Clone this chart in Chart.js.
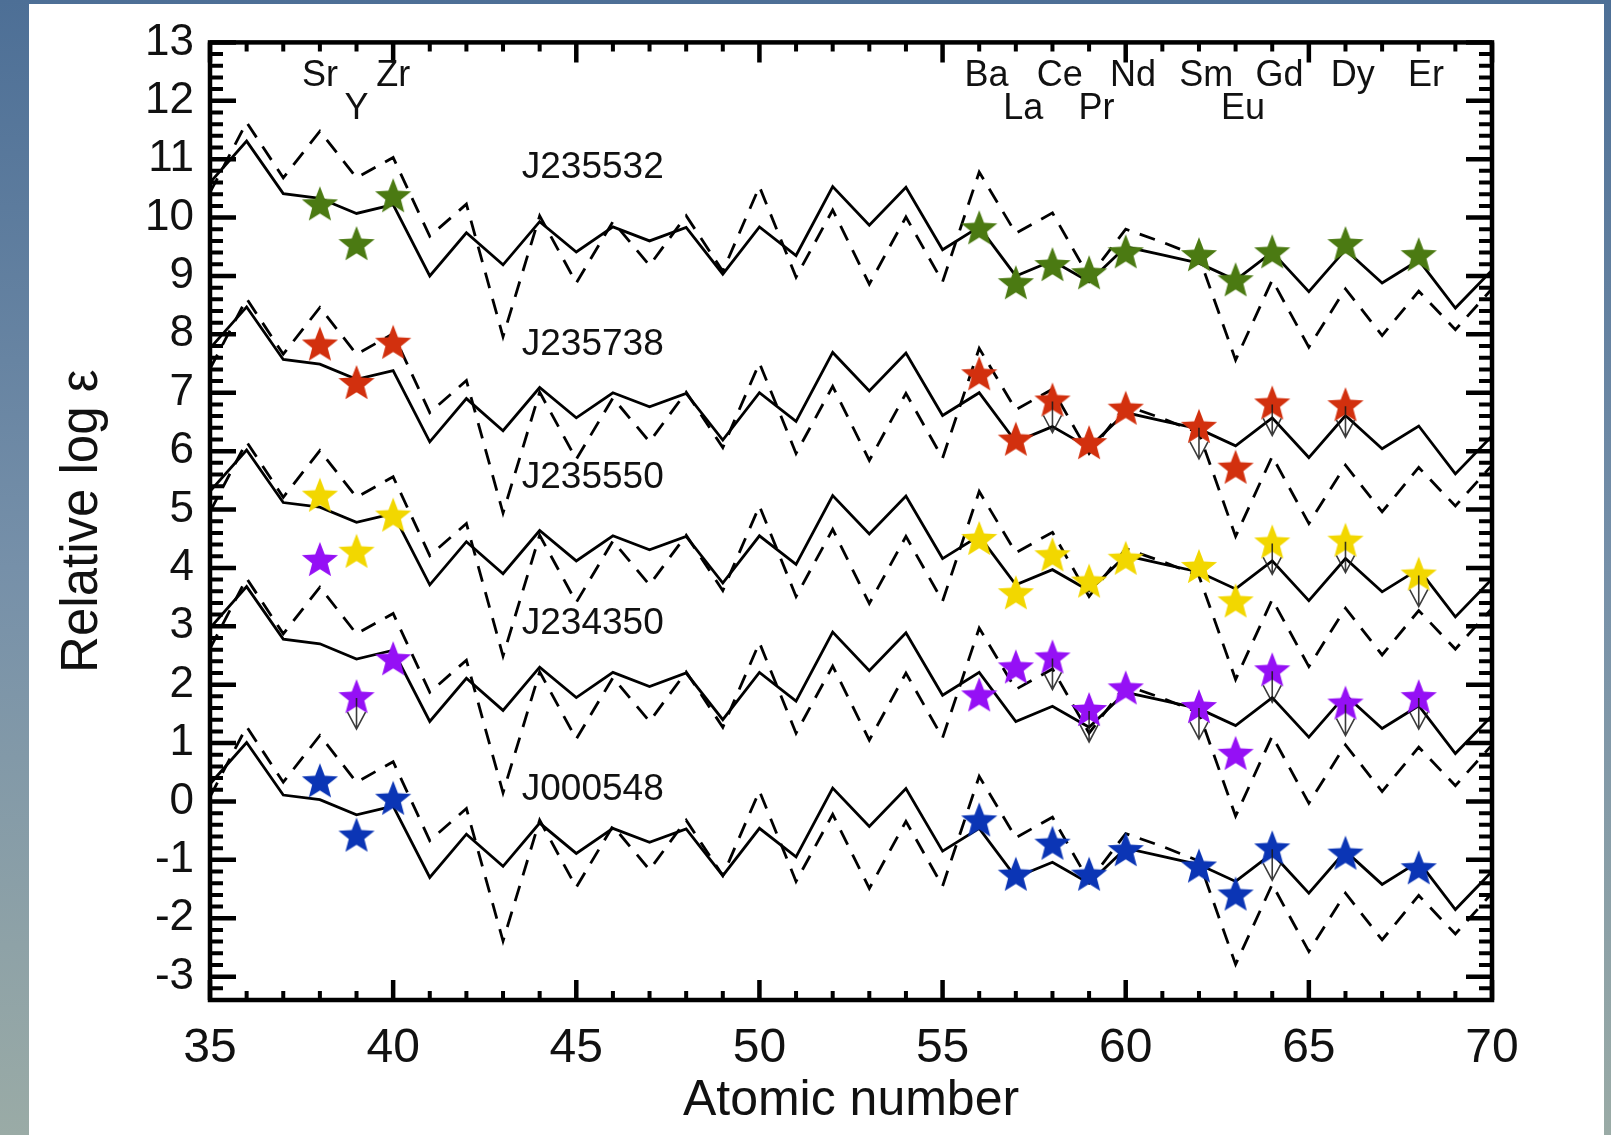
<!DOCTYPE html>
<html>
<head>
<meta charset="utf-8">
<script src="https://cdn.jsdelivr.net/npm/chart.js@4.4.0/dist/chart.umd.min.js"></script>
<style>
  html, body { margin: 0; padding: 0; }
  body {
    width: 1611px; height: 1135px; overflow: hidden; position: relative;
    background: linear-gradient(to bottom, #4d6f96 0%, #7690a9 50%, #9aaba6 100%);
  }
  #panel { position: absolute; left: 29px; top: 4px; width: 1575px; height: 1131px; background: #fff; }
  #chart { position: absolute; left: 0; top: 0; }
</style>
</head>
<body>
<div id="panel"></div>
<canvas id="chart" width="1611" height="1135"></canvas>
<script>
const atomicNumbers = [35, 36, 37, 38, 39, 40, 41, 42, 43, 44, 45, 46, 47, 48, 49, 50, 51, 52,
  53, 54, 55, 56, 57, 58, 59, 60, 61, 62, 63, 64, 65, 66, 67, 68, 69, 70];

// r-process patterns, unshifted (solid and dashed curves)
const patternSolid = [10.6, 11.31, 10.41, 10.33, 10.07, 10.22, 9.0, 9.74, 9.19, 9.93, 9.41, 9.84,
  9.6, 9.83, 9.03, 9.84, 9.35, 10.53, 9.87, 10.52, 9.45, 9.84, 9.0, 9.26, 8.9, 9.5, 9.36, 9.22,
  8.93, 9.41, 8.73, 9.45, 8.88, 9.27, 8.45, 9.1];
const patternDashed = [10.25, 11.45, 10.5, 11.3, 10.5, 10.85, 9.5, 10.05, 7.78, 9.85, 8.7, 9.75,
  9.0, 9.85, 8.9, 10.35, 8.8, 9.95, 8.68, 9.83, 8.72, 10.6, 9.55, 9.9, 8.8, 9.62, 9.4, 9.15,
  7.38, 8.75, 7.6, 8.6, 7.8, 8.56, 7.9, 8.6];

const starNames = ['J235532', 'J235738', 'J235550', 'J234350', 'J000548'];
const starColors = ['#4b7a12', '#d2300e', '#f2d700', '#9510f5', '#0b35b5'];
const solidShift = [0, -2.84, -5.29, -7.63, -10.3];
const dashedShift = [0.18, -2.84, -5.29, -7.63, -10.17];

const elements = ['Sr', 'Y', 'Zr', 'Ba', 'La', 'Ce', 'Pr', 'Nd', 'Sm', 'Eu', 'Gd', 'Dy', 'Er'];
const elementZ = [38, 39, 40, 56, 57, 58, 59, 60, 62, 63, 64, 66, 68];
const elementRow = [0, 1, 0, 0, 1, 0, 1, 0, 0, 1, 0, 0, 0];

const abundJ235532 = [10.21, 9.53, 10.35, 9.8, 8.86, 9.17, 9.03, 9.39, 9.34, 8.91, 9.39, 9.53, 9.34];
const abundJ235738 = [7.81, 7.15, 7.84, 7.3, 6.18, 6.85, 6.12, 6.71, 6.4, 5.7, 6.8, 6.77, null];
const abundJ235550 = [5.22, 4.26, 4.88, 4.48, 3.55, 4.2, 3.75, 4.14, 4.0, 3.41, 4.42, 4.45, 3.87];
const abundJ234350 = [4.12, 1.77, 2.42, 1.8, 2.28, 2.45, 1.55, 1.92, 1.6, 0.8, 2.23, 1.66, 1.77];
const abundJ000548 = [0.33, -0.6, 0.03, -0.34, -1.27, -0.74, -1.27, -0.85, -1.13, -1.61, -0.82, -0.91, -1.16];
const abundances = [abundJ235532, abundJ235738, abundJ235550, abundJ234350, abundJ000548];

// upper limits, drawn with a down arrow
const upperLimits = [
  [],
  ['Ce', 'Sm', 'Gd', 'Dy'],
  ['Gd', 'Dy', 'Er'],
  ['Y', 'Ce', 'Pr', 'Sm', 'Gd', 'Dy', 'Er'],
  ['Gd']
];

const xTicks = [35, 40, 45, 50, 55, 60, 65, 70];
const yTicks = [-3, -2, -1, 0, 1, 2, 3, 4, 5, 6, 7, 8, 9, 10, 11, 12, 13];

const FONT = "'Liberation Sans', Arial, Helvetica, sans-serif";
const nameLabelZ = 45.45;
const nameLabelY = [10.86, 7.82, 5.55, 3.04, 0.2];
const elementRowY = [12.43, 11.86];

function starSymbol(color, r) {
  const c = document.createElement('canvas');
  const size = Math.ceil(r * 2 + 2);
  c.width = size;
  c.height = size;
  const g = c.getContext('2d');
  g.fillStyle = color;
  g.beginPath();
  for (let k = 0; k < 10; k++) {
    const rad = k % 2 === 0 ? r : r * 0.43;
    const a = -Math.PI / 2 + k * Math.PI / 5;
    const px = size / 2 + rad * Math.cos(a);
    const py = size / 2 + rad * Math.sin(a);
    if (k === 0) g.moveTo(px, py); else g.lineTo(px, py);
  }
  g.closePath();
  g.fill();
  return c;
}

const datasets = [];
starNames.forEach((name, i) => {
  const pts = [];
  abundances[i].forEach((v, k) => {
    if (v !== null) pts.push({ x: elementZ[k], y: v });
  });
  datasets.push({
    label: name,
    data: pts,
    showLine: false,
    pointStyle: starSymbol(starColors[i], 19),
    pointRadius: 19,
    order: 0
  });
  datasets.push({
    label: name + ' solid',
    data: atomicNumbers.map((z, k) => ({ x: z, y: patternSolid[k] + solidShift[i] })),
    showLine: true,
    borderColor: '#000',
    borderWidth: 2.8,
    pointRadius: 0,
    tension: 0,
    order: 2
  });
  datasets.push({
    label: name + ' dashed',
    data: atomicNumbers.map((z, k) => ({ x: z, y: patternDashed[k] + dashedShift[i] })),
    showLine: true,
    borderColor: '#000',
    borderWidth: 2.8,
    borderDash: [16, 11],
    pointRadius: 0,
    tension: 0,
    order: 3
  });
});

// frame with inward ticks, limit arrows and text labels
const decorations = {
  id: 'decorations',
  afterDatasetsDraw(chart) {
    const ctx = chart.ctx;
    const xs = chart.scales.x, ys = chart.scales.y;
    const a = chart.chartArea;
    ctx.save();

    // upper limit arrows
    ctx.strokeStyle = 'rgba(25,25,25,0.85)';
    ctx.lineWidth = 1.6;
    upperLimits.forEach((list, i) => {
      list.forEach(el => {
        const k = elements.indexOf(el);
        const px = xs.getPixelForValue(elementZ[k]);
        const py = ys.getPixelForValue(abundances[i][k]);
        ctx.beginPath();
        ctx.moveTo(px, py);
        ctx.lineTo(px, py + 31);
        ctx.moveTo(px - 9, py + 14);
        ctx.lineTo(px, py + 31);
        ctx.lineTo(px + 9, py + 14);
        ctx.stroke();
      });
    });

    // ticks
    ctx.strokeStyle = '#000';
    for (let z = 35; z <= 70; z++) {
      const px = xs.getPixelForValue(z);
      const len = z % 5 === 0 ? 20 : 9;
      ctx.lineWidth = z % 5 === 0 ? 4.5 : 4;
      ctx.beginPath();
      ctx.moveTo(px, a.bottom); ctx.lineTo(px, a.bottom - len);
      ctx.moveTo(px, a.top); ctx.lineTo(px, a.top + len);
      ctx.stroke();
    }
    for (let k = -17; k <= 65; k++) {
      const py = ys.getPixelForValue(k / 5);
      const major = k % 5 === 0;
      const len = major ? 26 : 13;
      ctx.lineWidth = major ? 4.5 : 4;
      ctx.beginPath();
      ctx.moveTo(a.left, py); ctx.lineTo(a.left + len, py);
      ctx.moveTo(a.right, py); ctx.lineTo(a.right - len, py);
      ctx.stroke();
    }
    ctx.lineWidth = 4.5;
    ctx.strokeRect(a.left, a.top, a.right - a.left, a.bottom - a.top);

    // element and star labels
    ctx.fillStyle = '#111';
    ctx.textAlign = 'center';
    ctx.textBaseline = 'middle';
    ctx.font = '36px ' + FONT;
    elements.forEach((el, k) => {
      const dz = elementZ[k] > 50 ? 0.2 : 0;
      ctx.fillText(el, xs.getPixelForValue(elementZ[k] + dz), ys.getPixelForValue(elementRowY[elementRow[k]]));
    });
    ctx.font = '37px ' + FONT;
    starNames.forEach((name, i) => {
      ctx.fillText(name, xs.getPixelForValue(nameLabelZ), ys.getPixelForValue(nameLabelY[i]));
    });
    ctx.restore();
  }
};

new Chart(document.getElementById('chart'), {
  type: 'scatter',
  data: { datasets: datasets },
  plugins: [decorations],
  options: {
    responsive: false,
    animation: false,
    devicePixelRatio: 1,
    layout: { padding: { top: 32, right: 119, left: 0, bottom: 0 } },
    plugins: { legend: { display: false }, tooltip: { enabled: false } },
    scales: {
      x: {
        type: 'linear',
        min: 35,
        max: 70,
        grid: { display: false, drawTicks: false, tickLength: 0 },
        border: { display: false },
        ticks: { color: '#111', font: { family: FONT, size: 48 }, padding: 20, maxRotation: 0, autoSkip: false },
        afterBuildTicks: s => { s.ticks = xTicks.map(v => ({ value: v })); },
        afterFit: s => { s.height = 135; },
        title: { display: true, text: 'Atomic number', color: '#111', font: { family: FONT, size: 50 }, padding: { top: 0, bottom: 4 } }
      },
      y: {
        type: 'linear',
        min: -3.4,
        max: 13,
        grid: { display: false, drawTicks: false, tickLength: 0 },
        border: { display: false },
        ticks: { color: '#111', font: { family: FONT, size: 44 }, padding: 16 },
        afterBuildTicks: s => { s.ticks = yTicks.map(v => ({ value: v })); },
        afterFit: s => { s.width = 210; },
        title: { display: true, text: 'Relative log ε', color: '#111', font: { family: FONT, size: 51 }, padding: { top: 52, bottom: 0 } }
      }
    }
  }
});
</script>
</body>
</html>
